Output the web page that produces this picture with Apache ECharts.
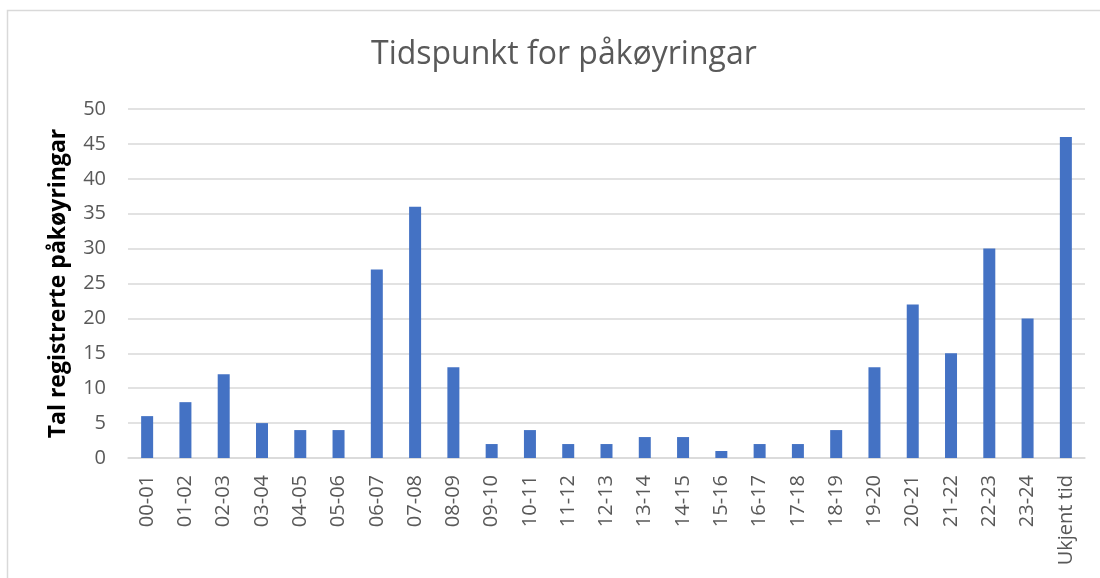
<!DOCTYPE html>
<html>
<head>
<meta charset="utf-8">
<script src="https://cdn.jsdelivr.net/npm/echarts@6/dist/echarts.min.js"></script>
<style>
  html, body { margin: 0; padding: 0; background: #fff; }
  #chart { width: 1100px; height: 578px; }
</style>
</head>
<body>
<div id="chart"></div>
<script>
const categories = ['00-01', '01-02', '02-03', '03-04', '04-05', '05-06', '06-07', '07-08', '08-09', '09-10',
  '10-11', '11-12', '12-13', '13-14', '14-15', '15-16', '16-17', '17-18', '18-19', '19-20',
  '20-21', '21-22', '22-23', '23-24', 'Ukjent tid'];
const counts = [6, 8, 12, 5, 4, 4, 27, 36, 13, 2, 4, 2, 2, 3, 3, 1, 2, 2, 4, 13, 22, 15, 30, 20, 46];

const font = '"Open Sans", "Noto Sans", sans-serif';
const textGray = '#595959';

const chart = echarts.init(document.getElementById('chart'), null, { renderer: 'canvas' });
chart.setOption({
  animation: false,
  backgroundColor: '#fff',
  title: {
    text: 'Tidspunkt for påkøyringar',
    left: 366,
    top: 34,
    textStyle: { fontFamily: font, fontSize: 32, fontWeight: 'normal', color: textGray }
  },
  graphic: [{
    type: 'rect',
    shape: { x: 7.5, y: 10.5, width: 1100, height: 600 },
    style: { fill: 'none', stroke: '#d9d9d9', lineWidth: 1.5 },
    silent: true
  }],
  grid: { left: 128, right: 15, top: 109, bottom: 120 },
  xAxis: {
    type: 'category',
    data: categories,
    axisLine: { lineStyle: { color: '#d9d9d9', width: 1.5 } },
    axisTick: { show: false },
    axisLabel: {
      rotate: 90,
      interval: 0,
      margin: 17,
      fontFamily: font,
      fontSize: 20,
      color: textGray
    }
  },
  yAxis: {
    type: 'value',
    min: 0,
    max: 50,
    interval: 5,
    name: 'Tal registrerte påkøyringar',
    nameLocation: 'middle',
    nameGap: 58,
    nameTextStyle: { fontFamily: font, fontSize: 23, fontWeight: 'bold', color: '#000' },
    axisLine: { show: false },
    axisTick: { show: false },
    axisLabel: { fontFamily: font, fontSize: 20, color: textGray, margin: 22 },
    splitLine: { lineStyle: { color: '#d9d9d9', width: 1.5 } }
  },
  series: [{
    type: 'bar',
    data: counts,
    barWidth: 12,
    itemStyle: { color: '#4472C4' }
  }]
});
</script>
</body>
</html>
